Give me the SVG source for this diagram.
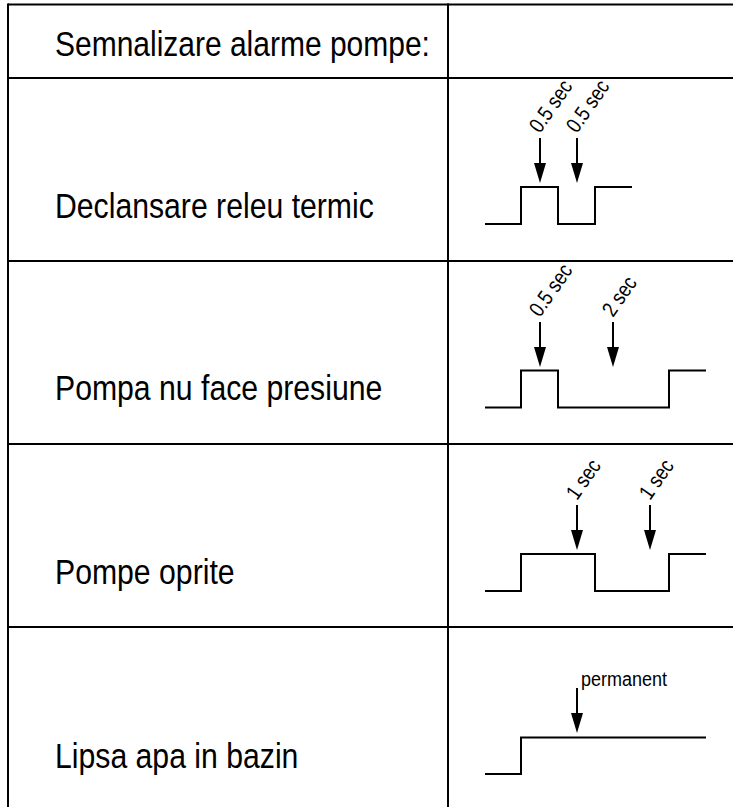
<svg xmlns="http://www.w3.org/2000/svg" width="733" height="807" viewBox="0 0 733 807">
<style>
.grid{stroke:#000;stroke-width:2;fill:none}
.sig{stroke:#000;stroke-width:2;fill:none}
.arr{stroke:#000;stroke-width:2;fill:none}
.lbl{font-family:"Liberation Sans",Arial,sans-serif;font-size:30.2px;fill:#000}
.sm{font-family:"Liberation Sans",Arial,sans-serif;font-size:18px;fill:#000}
</style>
<rect width="733" height="807" fill="#fff"/>
<g id="table">
<line class="grid" x1="8" y1="4.5" x2="733" y2="4.5"/>
<line class="grid" x1="8" y1="78" x2="733" y2="78"/>
<line class="grid" x1="8" y1="261" x2="733" y2="261"/>
<line class="grid" x1="8" y1="444" x2="733" y2="444"/>
<line class="grid" x1="8" y1="627" x2="733" y2="627"/>
<line class="grid" x1="8" y1="3.5" x2="8" y2="807"/>
<line class="grid" x1="448" y1="3.5" x2="448" y2="807"/>
</g>
<g id="header"><text class="lbl" transform="translate(55,56) scale(1,1.17)" style="font-size:30px">Semnalizare alarme pompe:</text></g>
<g id="row1">
<text class="lbl" transform="translate(55,218) scale(1,1.17)">Declansare releu termic</text>
<polyline class="sig" points="485,224 521,224 521,187 558,187 558,224 595,224 595,187 632,187"/>
<text class="sm" transform="translate(540,134) rotate(-55) scale(1,1.2)">0.5 sec</text>
<text class="sm" transform="translate(577,134) rotate(-55) scale(1,1.2)">0.5 sec</text>
</g>
<g id="row2">
<text class="lbl" transform="translate(55,400) scale(1,1.17)">Pompa nu face presiune</text>
<polyline class="sig" points="485,407.5 521,407.5 521,370.5 558,370.5 558,407.5 669,407.5 669,370.5 706,370.5"/>
<text class="sm" transform="translate(540,318) rotate(-55) scale(1,1.2)">0.5 sec</text>
<text class="sm" transform="translate(613,318) rotate(-55) scale(1,1.2)">2 sec</text>
</g>
<g id="row3">
<text class="lbl" transform="translate(55,584) scale(1,1.17)">Pompe oprite</text>
<polyline class="sig" points="485,591 521,591 521,554 595,554 595,591 669,591 669,554 706,554"/>
<text class="sm" transform="translate(577,501) rotate(-55) scale(1,1.2)">1 sec</text>
<text class="sm" transform="translate(650,501) rotate(-55) scale(1,1.2)">1 sec</text>
</g>
<g id="row4">
<text class="lbl" transform="translate(55,768) scale(1,1.17)">Lipsa apa in bazin</text>
<polyline class="sig" points="485,774 521,774 521,737.5 706,737.5"/>
<text class="sm" transform="translate(581,686) scale(1,1.1)">permanent</text>
</g>
<g id="connectors">
<line class="arr" x1="540" y1="138" x2="540" y2="164" />
<path d="M534,163 L546,163 L540,183 Z"/>
<line class="arr" x1="577" y1="138" x2="577" y2="164" />
<path d="M571,163 L583,163 L577,183 Z"/>
<line class="arr" x1="540" y1="322" x2="540" y2="348" />
<path d="M534,347 L546,347 L540,367 Z"/>
<line class="arr" x1="613" y1="322" x2="613" y2="348" />
<path d="M607,347 L619,347 L613,367 Z"/>
<line class="arr" x1="577" y1="505" x2="577" y2="531" />
<path d="M571,530 L583,530 L577,550 Z"/>
<line class="arr" x1="650" y1="505" x2="650" y2="531" />
<path d="M644,530 L656,530 L650,550 Z"/>
<line class="arr" x1="577" y1="688" x2="577" y2="714" />
<path d="M571,713 L583,713 L577,733 Z"/>
</g>
</svg>
